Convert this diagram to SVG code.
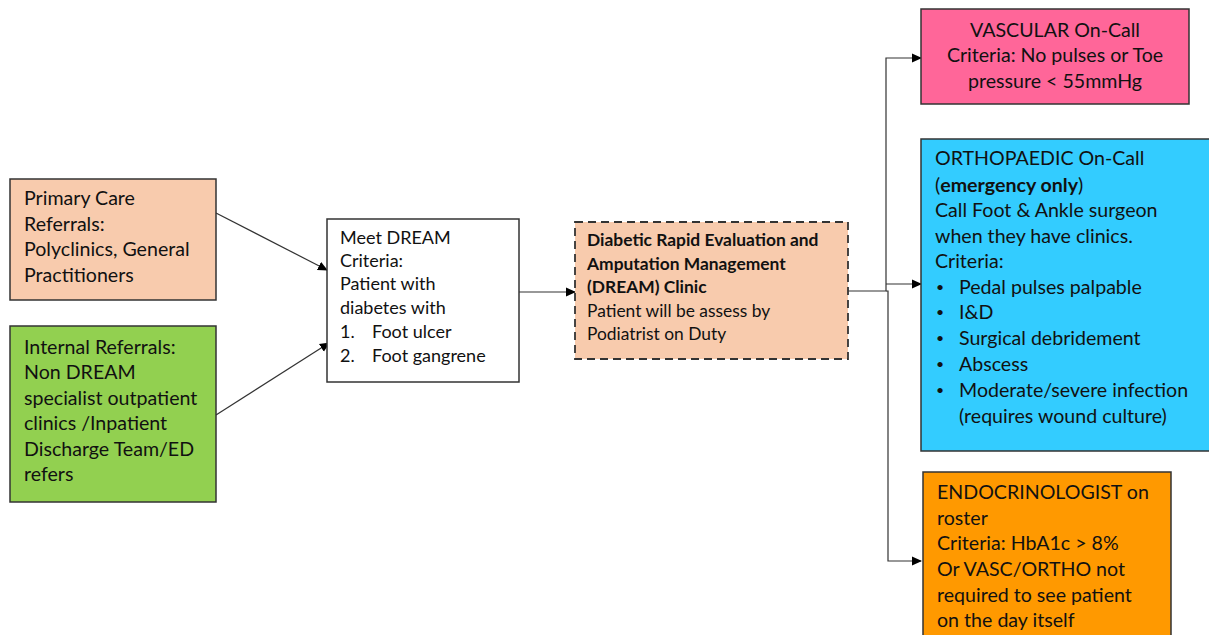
<svg xmlns="http://www.w3.org/2000/svg" width="1209" height="635" viewBox="0 0 1209 635">
<style>
.t{font-family:Lato,"Open Sans","Liberation Sans",sans-serif;font-size:19.6px;fill:#111}
.s{font-size:18px}
.c{font-size:17.4px}
.b{font-weight:bold}
.u{font-size:14px}
.box{stroke:#333;stroke-width:1.5}
.ln{stroke:#333;stroke-width:1.2;fill:none}
</style>
<defs>
<marker id="ah" markerWidth="10" markerHeight="10" refX="9" refY="5" orient="auto" markerUnits="userSpaceOnUse">
<path d="M0,0.5 L10,5 L0,9.5 Z" fill="#000"/>
</marker>
</defs>
<rect width="1209" height="635" fill="#fff"/>
<g id="connectors">
<line class="ln" x1="216" y1="213" x2="327" y2="270" marker-end="url(#ah)"/>
<line class="ln" x1="216" y1="415" x2="329" y2="343" marker-end="url(#ah)"/>
<line class="ln" x1="515" y1="292" x2="575" y2="292" marker-end="url(#ah)"/>
<polyline class="ln" points="848,291 886,291 886,58 921,58" marker-end="url(#ah)"/>
<polyline class="ln" points="886,284 921,284" marker-end="url(#ah)"/>
<polyline class="ln" points="886,291 888,291 888,561 921,561" marker-end="url(#ah)"/>
</g>
<g id="primary">
<rect class="box" x="10" y="179" width="206" height="121" fill="#F8CBAD"/>
<text class="t" x="24" y="205">Primary Care</text>
<text class="t" x="24" y="231">Referrals:</text>
<text class="t" x="24" y="256">Polyclinics, General</text>
<text class="t" x="24" y="282">Practitioners</text>
</g>
<g id="internal">
<rect class="box" x="10" y="326" width="206" height="176" fill="#92D050"/>
<text class="t" x="24" y="354">Internal Referrals:</text>
<text class="t" x="24" y="379">Non DREAM</text>
<text class="t" x="24" y="405">specialist outpatient</text>
<text class="t" x="24" y="430">clinics /Inpatient</text>
<text class="t" x="24" y="456">Discharge Team/ED</text>
<text class="t" x="24" y="481">refers</text>
</g>
<g id="meet">
<rect class="box" x="327" y="219" width="192" height="163" fill="#fff"/>
<text class="t s" x="340" y="244">Meet DREAM</text>
<text class="t s" x="340" y="267">Criteria:</text>
<text class="t s" x="340" y="290">Patient with</text>
<text class="t s" x="340" y="314">diabetes with</text>
<text class="t s" x="340" y="338">1.</text>
<text class="t s" x="372" y="338">Foot ulcer</text>
<text class="t s" x="340" y="362">2.</text>
<text class="t s" x="372" y="362">Foot gangrene</text>
</g>
<g id="dream">
<rect x="575" y="222" width="273" height="137" fill="#F8CBAD" stroke="#333" stroke-width="1.8" stroke-dasharray="8,5"/>
<text class="t c b" x="587" y="246">Diabetic Rapid Evaluation and</text>
<text class="t c b" x="587" y="270">Amputation Management</text>
<text class="t c b" x="587" y="293">(DREAM) Clinic</text>
<text class="t c" x="587" y="317">Patient will be assess by</text>
<text class="t c" x="587" y="340">Podiatrist on Duty</text>
</g>
<g id="vascular">
<rect class="box" x="921" y="9" width="268" height="95" fill="#FF6699"/>
<text class="t" x="1055" y="37" text-anchor="middle">VASCULAR On-Call</text>
<text class="t" x="1055" y="62" text-anchor="middle">Criteria: No pulses or Toe</text>
<text class="t" x="1055" y="88" text-anchor="middle">pressure &lt; 55mmHg</text>
</g>
<g id="ortho">
<rect class="box" x="921" y="139" width="300" height="312" fill="#33CCFF"/>
<text class="t" x="935" y="165">ORTHOPAEDIC On-Call</text>
<text class="t" x="935" y="192">(<tspan class="b">emergency only</tspan>)</text>
<text class="t" x="935" y="217">Call Foot &amp; Ankle surgeon</text>
<text class="t" x="935" y="243">when they have clinics.</text>
<text class="t" x="935" y="268">Criteria:</text>
<text class="t u" x="936" y="292">•</text><text class="t" x="959" y="294">Pedal pulses palpable</text>
<text class="t u" x="936" y="317">•</text><text class="t" x="959" y="319">I&amp;D</text>
<text class="t u" x="936" y="343">•</text><text class="t" x="959" y="345">Surgical debridement</text>
<text class="t u" x="936" y="369">•</text><text class="t" x="959" y="371">Abscess</text>
<text class="t u" x="936" y="395">•</text><text class="t" x="959" y="397">Moderate/severe infection</text>
<text class="t" x="959" y="423">(requires wound culture)</text>
</g>
<g id="endo">
<rect class="box" x="923" y="472" width="248" height="175" fill="#FF9900"/>
<text class="t" x="937" y="499">ENDOCRINOLOGIST on</text>
<text class="t" x="937" y="525">roster</text>
<text class="t" x="937" y="550">Criteria: HbA1c &gt; 8%</text>
<text class="t" x="937" y="576">Or VASC/ORTHO not</text>
<text class="t" x="937" y="602">required to see patient</text>
<text class="t" x="937" y="627">on the day itself</text>
</g>
</svg>
